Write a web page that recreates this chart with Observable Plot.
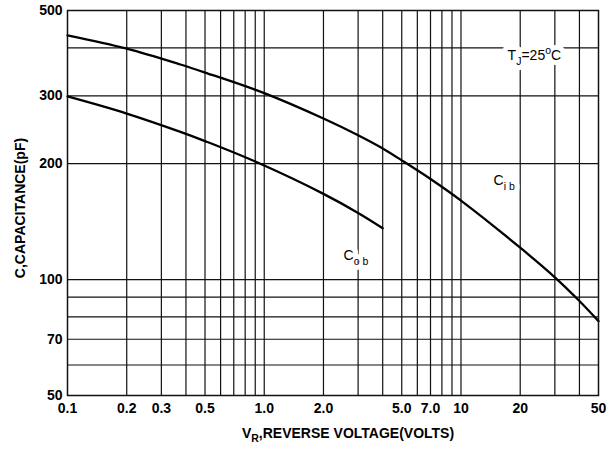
<!DOCTYPE html>
<html>
<head>
<meta charset="utf-8">
<script src="https://cdn.jsdelivr.net/npm/d3@7"></script>
<script src="https://cdn.jsdelivr.net/npm/@observablehq/plot@0.6"></script>
<style>
  html, body { margin: 0; padding: 0; background: #fff; }
</style>
</head>
<body>
<div id="chart"></div>
<script>
// ---- data ----
const cibVoltage = [0.1, 0.2, 0.375, 0.5, 1.0, 2, 3, 4, 5, 7, 10, 20, 30, 40, 50];
const cibCap     = [431, 398, 362, 345, 305, 262, 237, 219, 204, 182.5, 160.4, 121, 101.4, 88, 78];
const cobVoltage = [0.1, 0.2, 0.375, 0.5, 0.9, 2, 3, 4];
const cobCap     = [299, 270, 242, 229, 202.6, 167, 149, 136];

const xTicks = [0.1, 0.2, 0.3, 0.5, 1, 2, 5, 7, 10, 20, 50];
const xTickLabels = ["0.1", "0.2", "0.3", "0.5", "1.0", "2.0", "5.0", "7.0", "10", "20", "50"];
const yTicks = [50, 70, 100, 200, 300, 500];
const yTickLabels = ["50", "70", "100", "200", "300", "500"];

const xGrid = [0.2, 0.3, 0.4, 0.5, 0.6, 0.7, 0.8, 0.9, 1, 2, 3, 4, 5, 6, 7, 8, 9, 10, 20, 30, 40];
const yGrid = [60, 70, 80, 90, 100, 200, 300, 400];

const labelText = ["C_{o b}", "C_{i b}", "T_{J}=25^{o}C"];
const labelV    = [2.53, 14.65, 17.26];
const labelC    = [115.5, 181, 382];

const xTitle = "V_{R},REVERSE VOLTAGE(VOLTS)";
const yTitle = "C,CAPACITANCE(pF)";

// ---- build tables ----
const cib = cibVoltage.map((v, i) => ({v, c: cibCap[i]}));
const cob = cobVoltage.map((v, i) => ({v, c: cobCap[i]}));
const labels = labelText.map((t, i) => ({t, v: labelV[i], c: labelC[i]}));
const xTickData = xTicks.map((v, i) => ({v, t: xTickLabels[i]}));
const yTickData = yTicks.map((c, i) => ({c, t: yTickLabels[i]}));

const chart = Plot.plot({
  width: 609,
  height: 450,
  marginLeft: 67,
  marginRight: 11,
  marginTop: 10,
  marginBottom: 55,
  style: {fontFamily: "'Liberation Sans', Arial, sans-serif", fontSize: "14px", fontWeight: "bold", background: "#fff", color: "#000"},
  x: {type: "log", domain: [0.1, 50], axis: null},
  y: {type: "log", domain: [50, 500], axis: null},
  marks: [
    Plot.ruleX(xGrid, {stroke: "#111", strokeWidth: 1.2}),
    Plot.ruleY(yGrid, {stroke: "#111", strokeWidth: 1.2}),
    Plot.line(cib, {x: "v", y: "c", curve: "catmull-rom", stroke: "#000", strokeWidth: 2.3}),
    Plot.line(cob, {x: "v", y: "c", curve: "catmull-rom", stroke: "#000", strokeWidth: 2.3}),
    // white knock-out behind the in-plot labels, then the labels themselves
    Plot.text(labels, {x: "v", y: "c", text: "t", textAnchor: "start", fontSize: 14, fontWeight: "normal", fill: "#fff", stroke: "#fff", strokeWidth: 10}),
    Plot.text(labels, {x: "v", y: "c", text: "t", textAnchor: "start", fontSize: 14, fontWeight: "normal", fill: "#000"}),
    Plot.frame({stroke: "#111", strokeWidth: 1.5}),
    // tick labels
    Plot.text(xTickData, {x: "v", text: "t", frameAnchor: "bottom", textAnchor: "middle", lineAnchor: "top", dy: 8, fill: "#000"}),
    Plot.text(yTickData, {y: "c", text: "t", frameAnchor: "left", textAnchor: "end", dx: -5, fill: "#000"}),
    // axis titles
    Plot.text([xTitle], {frameAnchor: "bottom", textAnchor: "middle", dx: 15, dy: 42, fontSize: 14, fontWeight: "bold", fill: "#000"}),
    Plot.text([yTitle], {frameAnchor: "left", textAnchor: "middle", dx: -47, dy: 5, rotate: -90, fontSize: 14, fontWeight: "bold", fill: "#000"})
  ]
});

// turn _{..} and ^{..} markup into real sub/superscript tspans
d3.select(chart).selectAll("text").each(function() {
  const el = this;
  const s = el.textContent;
  if (!/[_^]\{/.test(s)) return;
  const fs = parseFloat(getComputedStyle(el).fontSize) || 14;
  const parts = s.match(/_\{[^}]*\}|\^\{[^}]*\}|[^_^]+/g);
  while (el.firstChild) el.removeChild(el.firstChild);
  let shift = 0;
  for (const p of parts) {
    const t = document.createElementNS("http://www.w3.org/2000/svg", "tspan");
    let target = 0, txt = p, size = null;
    if (p.startsWith("_{")) { target = fs * 0.35; txt = p.slice(2, -1); size = fs * 0.75; }
    else if (p.startsWith("^{")) { target = -fs * 0.4; txt = p.slice(2, -1); size = fs * 0.75; }
    t.setAttribute("dy", (target - shift).toFixed(2));
    if (size) t.setAttribute("font-size", size.toFixed(1));
    shift = target;
    t.textContent = txt;
    el.appendChild(t);
  }
});

document.getElementById("chart").appendChild(chart);
</script>
</body>
</html>
